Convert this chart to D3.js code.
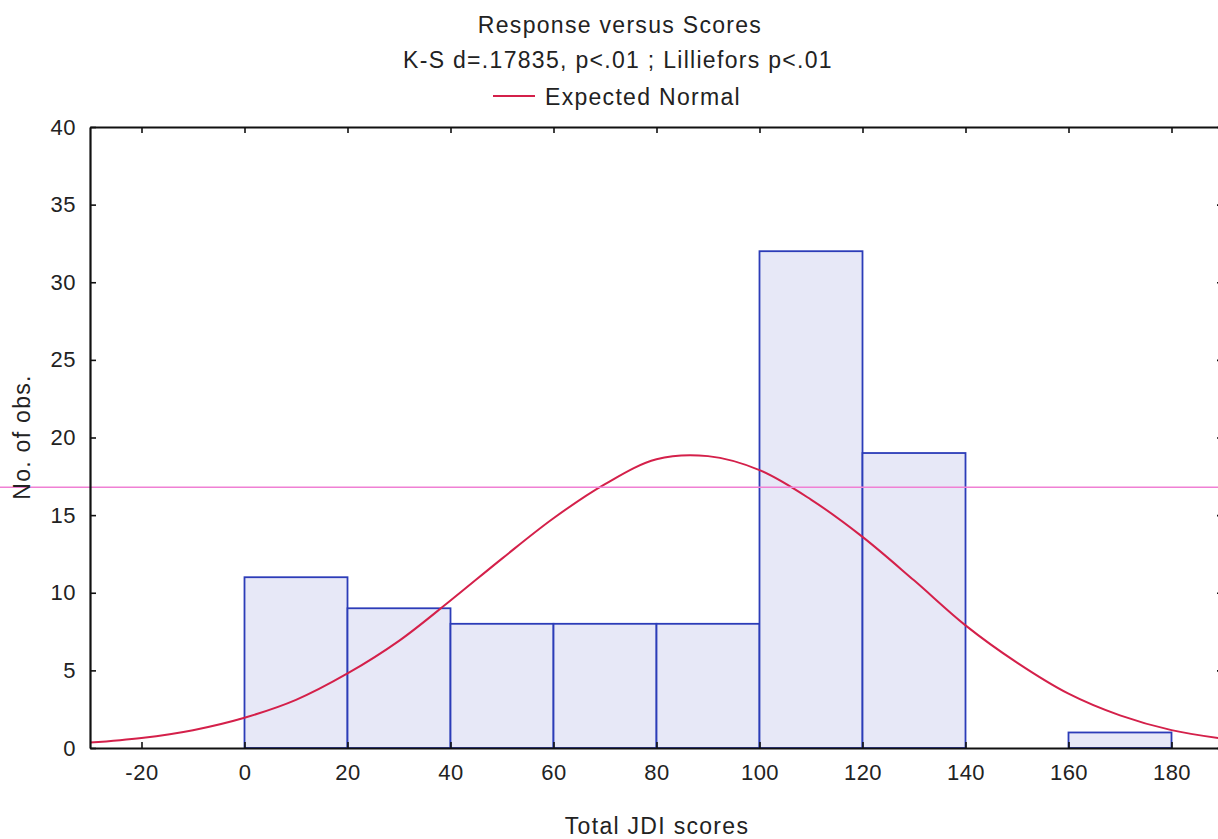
<!DOCTYPE html>
<html>
<head>
<meta charset="utf-8">
<script src="https://cdn.jsdelivr.net/npm/d3@7"></script>
<style>
  body { margin: 0; background: #fff; }
  text { font-family: "Liberation Sans", Arial, sans-serif; fill: #222; }
</style>
</head>
<body>
<svg id="chart" width="1218" height="839"></svg>
<script>
// histogram bins (lower edge, upper edge, count)
var binStarts = [0, 20, 40, 60, 80, 100, 120, 140, 160];
var binEnds   = [20, 40, 60, 80, 100, 120, 140, 160, 180];
var counts    = [11, 9, 8, 8, 8, 32, 19, 0, 1];

// expected normal curve
var curveX = [-30, -20, -10, 0, 10, 20, 30, 40, 50, 60, 70, 80, 90, 100, 110, 120, 130, 140, 150, 160, 170, 180, 190];
var curveY = [0.35, 0.65, 1.15, 1.95, 3.1, 4.8, 6.9, 9.5, 12.2, 14.8, 17.0, 18.6, 18.8, 17.9, 16.0, 13.6, 10.8, 7.9, 5.5, 3.5, 2.1, 1.15, 0.6];

var xTicks = [-20, 0, 20, 40, 60, 80, 100, 120, 140, 160, 180];
var yTicks = [0, 5, 10, 15, 20, 25, 30, 35, 40];
var refLine = 16.8;

var title = "Response versus Scores";
var subtitle = "K-S d=.17835, p<.01 ; Lilliefors p<.01";
var legendLabel = "Expected Normal";

var svg = d3.select("#chart");
var plotL = 90, plotT = 127, plotR = 1223, plotB = 748;

var x = d3.scaleLinear().domain([-30, 190]).range([plotL, plotR]);
var y = d3.scaleLinear().domain([0, 40]).range([plotB, plotT]);

// bars
var bins = counts.map(function(c, i){ return {x0: binStarts[i], x1: binEnds[i], n: c}; })
  .filter(function(d){ return d.n > 0; });

svg.append("g").selectAll("rect").data(bins).enter().append("rect")
  .attr("x", function(d){ return x(d.x0); })
  .attr("y", function(d){ return y(d.n); })
  .attr("width", function(d){ return x(d.x1) - x(d.x0); })
  .attr("height", function(d){ return y(0) - y(d.n); })
  .attr("fill", "#e7e8f7")
  .attr("stroke", "#2c3cb8")
  .attr("stroke-width", 1.8);

// normal curve
var pts = curveX.map(function(v, i){ return [v, curveY[i]]; });
svg.append("path")
  .datum(pts)
  .attr("fill", "none")
  .attr("stroke", "#d4204a")
  .attr("stroke-width", 2)
  .attr("d", d3.line().x(function(d){ return x(d[0]); }).y(function(d){ return y(d[1]); }).curve(d3.curveCatmullRom));

// pink horizontal line across the whole picture
svg.append("line")
  .attr("x1", 0).attr("x2", 1218)
  .attr("y1", y(refLine)).attr("y2", y(refLine))
  .attr("stroke", "#f080d4")
  .attr("stroke-width", 1.5);

// axes, ticks inward on all four sides
var fmt = function(d){ return String(d); };
var axB = svg.append("g").attr("transform", "translate(0," + plotB + ")")
  .call(d3.axisBottom(x).tickValues(xTicks).tickSizeInner(-6).tickSizeOuter(0).tickPadding(16).tickFormat(fmt));
var axT = svg.append("g").attr("transform", "translate(0," + plotT + ")")
  .call(d3.axisTop(x).tickValues(xTicks).tickSizeInner(-6).tickSizeOuter(0).tickFormat(""));
var axL = svg.append("g").attr("transform", "translate(" + plotL + ",0)")
  .call(d3.axisLeft(y).tickValues(yTicks).tickSizeInner(-6).tickSizeOuter(0).tickPadding(14).tickFormat(fmt));
var axR = svg.append("g").attr("transform", "translate(" + plotR + ",0)")
  .call(d3.axisRight(y).tickValues(yTicks).tickSizeInner(-6).tickSizeOuter(0).tickFormat(""));

[axB, axT, axL, axR].forEach(function(a){
  a.select(".domain").attr("stroke", "#111").attr("stroke-width", 2.2);
  a.selectAll(".tick line").attr("stroke", "#111").attr("stroke-width", 1.6);
  a.selectAll(".tick text").attr("font-size", 22).attr("fill", "#222")
    .attr("letter-spacing", 0.5)
    .style("font-family", "Liberation Sans, Arial, sans-serif");
});

// titles
function label(sel){ return sel.attr("font-size", 23).attr("letter-spacing", 1.3); }
label(svg.append("text").attr("x", 620).attr("y", 33).attr("text-anchor", "middle")).text(title);
label(svg.append("text").attr("x", 618).attr("y", 68).attr("text-anchor", "middle")).text(subtitle);

// legend
svg.append("line").attr("x1", 493).attr("x2", 535).attr("y1", 96).attr("y2", 96)
  .attr("stroke", "#d4204a").attr("stroke-width", 2);
label(svg.append("text").attr("x", 545).attr("y", 105)).text(legendLabel);

// axis titles
label(svg.append("text").attr("x", 657).attr("y", 834).attr("text-anchor", "middle")).text("Total JDI scores");
label(svg.append("text").attr("transform", "translate(30,437) rotate(-90)")
  .attr("text-anchor", "middle")).text("No. of obs.");
</script>
</body>
</html>
